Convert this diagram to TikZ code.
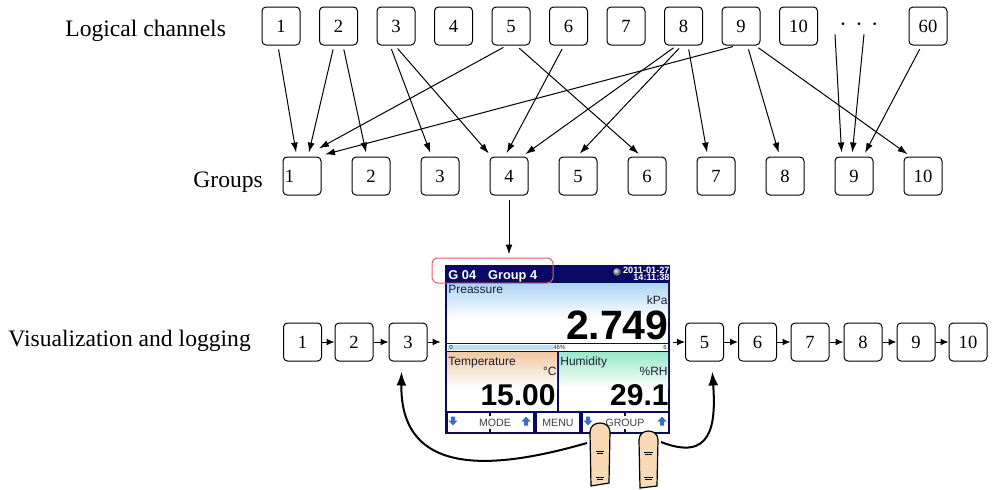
\documentclass[tikz,border=0pt]{standalone}
\usepackage{fontspec}
\setmainfont{Liberation Serif}
\newfontfamily\lcdfont{Liberation Sans}
\definecolor{lcdnavy}{RGB}{10,10,100}
\definecolor{lcdblue}{RGB}{170,212,242}
\definecolor{lcdpeach}{RGB}{240,200,160}
\definecolor{lcdmint}{RGB}{150,232,200}
\definecolor{lcdicon}{RGB}{60,110,190}
\definecolor{lcdtext}{RGB}{30,30,50}
\definecolor{hlred}{RGB}{235,95,95}
\definecolor{skin}{RGB}{250,218,182}
\usetikzlibrary{arrows.meta,positioning,calc}

\begin{document}
\begin{tikzpicture}[x=0.5pt,y=-0.5pt,
  chbox/.style={draw,rounded corners=2pt,minimum size=19pt,inner sep=0pt,line width=0.5pt,
    font=\fontsize{9.3}{11}\selectfont},
  rowlabel/.style={anchor=base west,inner sep=0pt,font=\fontsize{11.8}{14}\selectfont},
  maplink/.style={-{Latex[length=5pt,width=3.4pt]},line width=0.5pt,shorten <=2pt,shorten >=2pt},
  seqlink/.style={-{Latex[length=4pt,width=3.4pt]},line width=0.5pt},
  taplink/.style={-{Latex[length=7pt,width=5pt]},line width=1pt,shorten >=5pt},
  lcdsmall/.style={inner sep=0pt,text=lcdtext,font=\lcdfont\fontsize{6}{7}\selectfont},
  lcdtiny/.style={inner sep=0pt,text=lcdtext,font=\lcdfont\fontsize{3}{3}\selectfont},
  lcdbig/.style={inner sep=0pt,anchor=base east,font=\lcdfont\bfseries\fontsize{15}{15}\selectfont},
  lcdbtn/.style={inner sep=0pt,text=black!75,font=\lcdfont\fontsize{5.3}{6}\selectfont},
  finger/.style={draw,fill=skin,line width=0.6pt},
  lcdarrow/.pic={\fill[lcdicon] (-2,-4.5) -- (2,-4.5) -- (2,-0.5) -- (4.5,-0.5) -- (0,4.5) -- (-4.5,-0.5) -- (-2,-0.5) -- cycle;}
]
  \useasboundingbox (0,0) rectangle (993,489);
  % Logical channels
  \node[rowlabel] (chlabel) at (65,36) {Logical channels};
  \node[chbox] (ch1) at (281,26) {1};
  \node[chbox] (ch2) at (338.5,26) {2};
  \node[chbox] (ch3) at (396,26) {3};
  \node[chbox] (ch4) at (453.5,26) {4};
  \node[chbox] (ch5) at (511,26) {5};
  \node[chbox] (ch6) at (568.5,26) {6};
  \node[chbox] (ch7) at (626,26) {7};
  \node[chbox] (ch8) at (683.5,26) {8};
  \node[chbox] (ch9) at (741,26) {9};
  \node[chbox] (ch10) at (798.5,26) {10};
  \node[inner sep=0pt,minimum height=7pt,font=\fontsize{11}{11}\selectfont] (dots) at (859,27)
    {\textperiodcentered\hspace{4.3pt}\textperiodcentered\hspace{4.3pt}\textperiodcentered};
  \node[chbox] (ch60) at (928,26) {60};
  % Groups
  \node[rowlabel] (grplabel) at (193,187) {Groups};
  \node[chbox,text width=17pt,align=left] (g1) at (302,176) {1};
  \node[chbox] (g2) at (371,176) {2};
  \node[chbox] (g3) at (440,176) {3};
  \node[chbox] (g4) at (509,176) {4};
  \node[chbox] (g5) at (578,176) {5};
  \node[chbox] (g6) at (647,176) {6};
  \node[chbox] (g7) at (716,176) {7};
  \node[chbox] (g8) at (785,176) {8};
  \node[chbox] (g9) at (854,176) {9};
  \node[chbox] (g10) at (923,176) {10};
  % Channel to group mapping
  \draw[maplink] (ch1.261) -- (g1.105);
  \draw[maplink] (ch2.257) -- (g1.73);
  \draw[maplink] (ch2.283) -- (g2.102);
  \draw[maplink] (ch3.253) -- (g3.113);
  \draw[maplink] (ch3.267) -- (g4.132);
  \draw[maplink,shorten >=8.5pt] (ch5.258) -- (g1.84);
  \draw[maplink] (ch5.285) -- (g6.105);
  \draw[maplink] (ch6.257) -- (g4.102);
  \draw[maplink] (ch8.251) -- (g4.56);
  \draw[maplink] (ch8.265) -- (g5.93);
  \draw[maplink] (ch8.283) -- (g7.113);
  \draw[maplink,shorten >=4pt] (ch9.258) -- (g1.52);
  \draw[maplink] (ch9.288) -- (g8.105);
  \draw[maplink] (ch9.306) -- (g10.122);
  \draw[maplink,shorten <=0pt] ([xshift=-12pt]dots.south) -- (g9.122);
  \draw[maplink,shorten <=0pt] ([xshift=2.5pt]dots.south) -- (g9.96);
  \draw[maplink] (ch60.252) -- (g9.65);

  % Display of group 4
  \node[fill=lcdnavy,minimum width=112.5pt,minimum height=84.5pt,inner sep=0pt] (lcd) at (557.5,349.5) {};
  \fill[white] (447,283) rectangle (668,343);
  \shade[top color=lcdblue,bottom color=white] (447,283) rectangle (668,318);
  \fill[white] (447,344) rectangle (668,351);
  \fill[lcdblue!80] (448,345) rectangle (553,350);
  \fill[white] (447,352) rectangle (557,411);
  \shade[top color=lcdpeach,bottom color=white] (447,352) rectangle (557,388);
  \fill[white] (559,352) rectangle (668,411);
  \shade[top color=lcdmint,bottom color=white] (559,352) rectangle (668,388);
  \fill[white] (448,413) rectangle (533,432);
  \fill[white] (537,413) rectangle (579,432);
  \fill[white] (583,413) rectangle (668,432);
  \draw[lcdnavy,line width=1pt] (490,413) -- (490,416) (490,429) -- (490,432)
    (625,413) -- (625,416) (625,429) -- (625,432);
  \pic at (453,421) {lcdarrow};
  \pic[rotate=180] at (526,421) {lcdarrow};
  \pic at (588,421) {lcdarrow};
  \pic[rotate=180] at (662,421) {lcdarrow};
  \shade[ball color=gray!70] (617,272) circle (4);
  % Display texts
  \node[inner sep=0pt,anchor=base west,text=white,font=\lcdfont\bfseries\fontsize{6.4}{7}\selectfont]
    (lcdtitle) at (448,279) {G 04\hspace{6pt}Group 4};
  \node[inner sep=0pt,anchor=base east,text=white,font=\lcdfont\bfseries\fontsize{4.6}{5}\selectfont]
    (lcddate) at (670,273) {2011-01-27};
  \node[inner sep=0pt,anchor=base east,text=white,font=\lcdfont\bfseries\fontsize{4.6}{5}\selectfont]
    (lcdtime) at (670,280) {14:11:38};
  \node[lcdsmall,anchor=base west] (prlabel) at (448,293) {Preassure};
  \node[lcdsmall,anchor=base east] (prunit) at (668,304) {kPa};
  \node[lcdbig,font=\lcdfont\bfseries\fontsize{20.5}{21}\selectfont] (prvalue) at (669,339) {2.749};
  \node[lcdtiny,anchor=base west] (barmin) at (449,349.5) {0};
  \node[lcdtiny,anchor=base west] (barval) at (553,349.5) {46\%};
  \node[lcdtiny,anchor=base east] (barmax) at (667,349.5) {6};
  \node[lcdsmall,anchor=base west] (tplabel) at (448,365) {Temperature};
  \node[lcdsmall,anchor=base east] (tpunit) at (557,375) {°C};
  \node[lcdbig] (tpvalue) at (556,405) {15.00};
  \node[lcdsmall,anchor=base west] (hmlabel) at (560,365) {Humidity};
  \node[lcdsmall,anchor=base east] (hmunit) at (668,375) {\%RH};
  \node[lcdbig] (hmvalue) at (669,405) {29.1};
  \node[lcdbtn] (btnmode) at (495,422.5) {MODE};
  \node[lcdbtn] (btnmenu) at (558,422.5) {MENU};
  \node[lcdbtn] (btngroup) at (625,422.5) {GROUP};
  \node[draw=hlred,rounded corners=3pt,minimum width=60.5pt,minimum height=12.5pt,inner sep=0pt,
    line width=0.5pt] (hl) at (492.5,270.5) {};
  \draw[maplink,shorten >=1.5pt] (g4.south) -- (g4.south |- hl.north);

  % Visualization and logging
  \node[rowlabel] (vislabel) at (8,346) {Visualization and logging};
  \node[chbox] (v1) at (302.5,342) {1};
  \node[chbox] (v2) at (354,342) {2};
  \node[chbox] (v3) at (408,342) {3};
  \node[chbox] (v5) at (704.5,342) {5};
  \node[chbox] (v6) at (757.5,342) {6};
  \node[chbox] (v7) at (810,342) {7};
  \node[chbox] (v8) at (863,342) {8};
  \node[chbox] (v9) at (916,342) {9};
  \node[chbox] (v10) at (968,342) {10};
  \draw[seqlink] (v1) -- (v2);
  \draw[seqlink] (v2) -- (v3);
  \draw[seqlink,shorten >=2pt] (v3.east) -- (v3.east -| lcd.west);
  \draw[seqlink,shorten <=1.5pt] (lcd.east |- v5.west) -- (v5.west);
  \draw[seqlink] (v5) -- (v6);
  \draw[seqlink] (v6) -- (v7);
  \draw[seqlink] (v7) -- (v8);
  \draw[seqlink] (v8) -- (v9);
  \draw[seqlink] (v9) -- (v10);

  % Fingers on the GROUP keys
  \filldraw[finger] (591,486) -- (590,432) .. controls (590,420) and (610,420) .. (610,432) -- (609,483) -- cycle;
  \filldraw[finger] (640,488) -- (639,440) .. controls (639,428) and (658,428) .. (658,440) -- (657,486) -- cycle;
  \draw[line width=0.4pt] (596,451) -- (604,451) (597,453.5) -- (603,453.5)
    (596,477) -- (604,477) (597,479.5) -- (603,479.5)
    (644,452) -- (653,452) (645,454.5) -- (652,454.5)
    (644,477) -- (653,477) (645,479.5) -- (652,479.5);
  \coordinate (tap1) at (587,443);
  \coordinate (tap2) at (661,442);
  \draw[taplink] (tap1) .. controls (510,465) and (400,485) .. (v3.252);
  \draw[taplink] (tap2) .. controls (712,462) and (716,425) .. (v5.290);
\end{tikzpicture}
\end{document}
